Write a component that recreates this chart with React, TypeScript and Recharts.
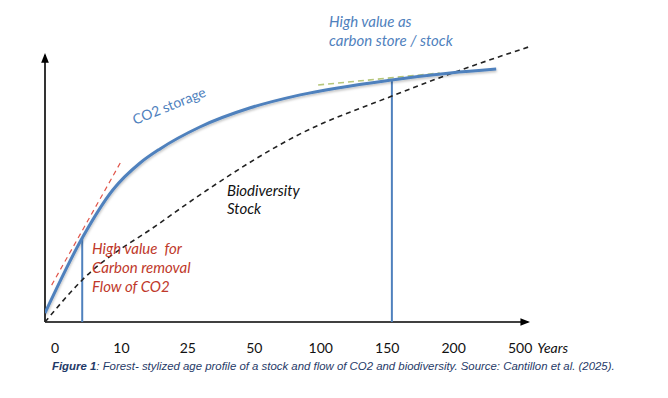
import { ComposedChart, Line, XAxis, YAxis, ReferenceLine } from "recharts";

// x positions are on the tick-index scale (0 = "0", 1 = "10", ... 7 = "500")
const TICK_POS = [0, 1, 2, 3, 4, 5, 6, 7];
const TICK_LABELS = ["0", "10", "25", "50", "100", "150", "200", "500"];

const CO2_X = [-0.15, 0.41, 0.87, 1.28, 1.58, 2.18, 2.94, 3.69, 5.07, 5.95, 6.64];
const CO2_Y = [3, 28, 44, 53, 57.7, 65, 71.4, 75.7, 80.7, 83, 84.3];

const BIO_X = [-0.15, 0.41, 1.58, 2.29, 3.69, 5.07, 6.07, 7.13];
const BIO_Y = [0, 14, 33, 44, 62.7, 75.3, 83.7, 91.7];

const REMOVAL_TANGENT_X = [-0.05, 0.99];
const REMOVAL_TANGENT_Y = [12.3, 53.3];

const STOCK_TANGENT_X = [3.96, 5.79];
const STOCK_TANGENT_Y = [79, 83];

// markers dropped from the curve to the axis
const MARKER_X = [0.41, 5.07];
const MARKER_Y = [28, 80.7];

const X_MIN = -0.15;
const X_AXIS_END = 7.12;
const Y_AXIS_TOP = 89;

const BLUE = "#4f81bd";
const RED = "#c0392b";

const zip = (xs: number[], ys: number[]) => xs.map((x, i) => ({ x, y: ys[i] }));

const co2 = zip(CO2_X, CO2_Y);
const bio = zip(BIO_X, BIO_Y);
const redTangent = zip(REMOVAL_TANGENT_X, REMOVAL_TANGENT_Y);
const greenTangent = zip(STOCK_TANGENT_X, STOCK_TANGENT_Y);

function YearTick({ x, y, payload }: any) {
  const i = payload.value as number;
  return (
    <g>
      <text x={x} y={y + 23} textAnchor="middle" fontFamily="Lato" fontSize={14} fill="#111">
        {TICK_LABELS[i]}
      </text>
      {i === TICK_POS[TICK_POS.length - 1] && (
        <text x={x + 17} y={y + 23} fontFamily="Lato" fontStyle="italic" fontSize={14} fill="#111">
          Years
        </text>
      )}
    </g>
  );
}

const arrowLine = (p: any) => (
  <line x1={p.x1} y1={p.y1} x2={p.x2} y2={p.y2} stroke="#000" strokeWidth={1.6} markerEnd="url(#arrowHead)" />
);

const textStyle = { fontFamily: "Lato", fontSize: 15 };

export default function App() {
  return (
    <div style={{ position: "absolute", left: 0, top: 0, width: 668, height: 398, background: "#fff" }}>
      <svg width={0} height={0} style={{ position: "absolute" }}>
        <defs>
          <marker id="arrowHead" viewBox="0 0 10 10" refX="8" refY="5" markerWidth="6" markerHeight="6" orient="auto">
            <path d="M0,1 L10,5 L0,9 z" fill="#000" />
          </marker>
          <filter id="softShadow" x="-5%" y="-5%" width="110%" height="120%">
            <feDropShadow dx="0.5" dy="1.5" stdDeviation="1" floodColor="#000" floodOpacity="0.25" />
          </filter>
        </defs>
      </svg>

      <ComposedChart width={668} height={398} margin={{ top: 22, right: 108, bottom: 46, left: 45 }}>
        <XAxis
          type="number"
          dataKey="x"
          domain={[X_MIN, 7.6]}
          ticks={TICK_POS}
          axisLine={false}
          tickLine={false}
          height={30}
          tick={<YearTick />}
          allowDataOverflow
        />
        <YAxis type="number" dataKey="y" domain={[0, 100]} hide allowDataOverflow />

        <ReferenceLine segment={[{ x: X_MIN, y: 0 }, { x: X_MIN, y: Y_AXIS_TOP }]} shape={arrowLine} />
        <ReferenceLine segment={[{ x: X_MIN, y: 0 }, { x: X_AXIS_END, y: 0 }]} shape={arrowLine} />

        {MARKER_X.map((mx, i) => (
          <ReferenceLine
            key={i}
            segment={[{ x: mx, y: 0 }, { x: mx, y: MARKER_Y[i] }]}
            stroke={BLUE}
            strokeWidth={2}
          />
        ))}

        <Line
          data={bio}
          dataKey="y"
          type="monotone"
          stroke="#222"
          strokeWidth={1.6}
          strokeDasharray="5 4"
          dot={false}
          isAnimationActive={false}
        />
        <Line
          data={redTangent}
          dataKey="y"
          type="linear"
          stroke="#e0554a"
          strokeWidth={1.2}
          strokeDasharray="5 4"
          dot={false}
          isAnimationActive={false}
        />
        <Line
          data={greenTangent}
          dataKey="y"
          type="linear"
          stroke="#b7c77c"
          strokeWidth={1.6}
          strokeDasharray="6 4"
          dot={false}
          isAnimationActive={false}
        />
        <Line
          data={co2}
          dataKey="y"
          type="monotone"
          stroke={BLUE}
          strokeWidth={3}
          dot={false}
          filter="url(#softShadow)"
          isAnimationActive={false}
        />
      </ComposedChart>

      <svg width={668} height={398} style={{ position: "absolute", left: 0, top: 0, pointerEvents: "none" }}>
        <text x={135} y={125} transform="rotate(-22 135 125)" fill={BLUE} fontFamily="Lato" fontSize={14}>
          CO2 storage
        </text>
        <g fill={BLUE} fontStyle="italic" style={textStyle}>
          <text x={329} y={27}>High value as</text>
          <text x={329} y={46}>carbon store / stock</text>
        </g>
        <g fill="#111" fontStyle="italic" style={textStyle}>
          <text x={227} y={196}>Biodiversity</text>
          <text x={227} y={214}>Stock</text>
        </g>
        <g fill={RED} fontStyle="italic" style={textStyle}>
          <text x={92} y={254}>{"High value\u00a0 for"}</text>
          <text x={92} y={273}>Carbon removal</text>
          <text x={92} y={292}>Flow of CO2</text>
        </g>
      </svg>

      <div
        style={{
          position: "absolute",
          left: 52,
          top: 360,
          fontFamily: "'Liberation Sans', Arial, sans-serif",
          fontStyle: "italic",
          fontSize: 11.4,
          color: "#1f3a68",
          whiteSpace: "nowrap",
        }}
      >
        <b>Figure 1</b>: Forest- stylized age profile of a stock and flow of CO2 and biodiversity. Source: Cantillon et
        al. (2025).
      </div>
    </div>
  );
}
